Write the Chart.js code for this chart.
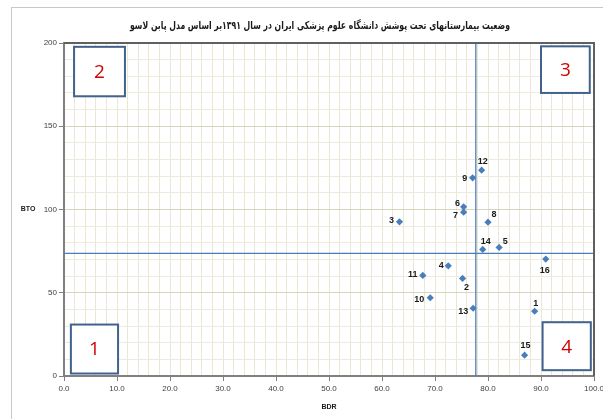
<!DOCTYPE html>
<html>
<head>
<meta charset="utf-8">
<script src="https://cdn.jsdelivr.net/npm/chart.js@4.4.1/dist/chart.umd.min.js"></script>
<style>
  html, body { margin: 0; padding: 0; background: #fff; overflow: hidden; }
  #wrap { position: relative; width: 603px; height: 419px; }
  #frame { position: absolute; left: 11px; top: 7px; width: 700px; height: 500px; border: 1px solid #c8c8c8; }
  #chart { position: absolute; left: 0; top: 0; }
</style>
</head>
<body>
<div id="wrap">
  <div id="frame"></div>
  <canvas id="chart" width="603" height="419"></canvas>
</div>
<script>
// hospitals (point labels) and their BDR / BTO values
const hospitalIds = ["1", "2", "3", "4", "5", "6", "7", "8", "9", "10", "11", "12", "13", "14", "15", "16"];
const bdrValues = [88.8, 75.2, 63.3, 72.5, 82.1, 75.4, 75.4, 80.0, 77.1, 69.1, 67.7, 78.8, 77.2, 79.0, 86.9, 90.9];
const btoValues = [38.9, 58.6, 92.6, 66.2, 77.2, 101.6, 98.4, 92.4, 119.0, 47.0, 60.4, 123.6, 40.7, 76.0, 12.5, 70.2];

// quadrant split lines
const meanBDR = 77.7;
const meanBTO = 73.6;

const titleText = "وضعیت بیمارستانهای تحت پوشش دانشگاه علوم پزشکی ایران در سال ۱۳۹۱بر اساس مدل پابن لاسو";
const xAxisTitle = "BDR";
const yAxisTitle = "BTO";
const quadrantNames = ["1", "2", "3", "4"];

// layout only: where each label sits relative to its point (px)
const labelOffsets = [
  [1, -8], [4, 9], [-8, -1], [-7, 0], [6, -6], [-6, -3], [-8, 3], [6, -8],
  [-8, 1], [-11, 2], [-10, -1], [1, -9], [-10, 3], [3, -8], [1, -10], [-1, 11]
];
// layout only: quadrant boxes in axis units [x0, x1, yTop, yBottom]
const quadrantBoxes = [
  [1.3, 10.2, 30.9, 1.5],
  [1.9, 11.5, 197.7, 168.0],
  [90.0, 99.2, 198.0, 170.0],
  [90.3, 99.4, 32.3, 3.5]
];

const points = bdrValues.map((x, i) => ({ x: x, y: btoValues[i] }));

const decorPlugin = {
  id: "decor",
  beforeDatasetsDraw(chart) {
    const ctx = chart.ctx;
    const xs = chart.scales.x, ys = chart.scales.y;
    ctx.save();
    quadrantBoxes.forEach((b, i) => {
      const x0 = xs.getPixelForValue(b[0]), x1 = xs.getPixelForValue(b[1]);
      const y0 = ys.getPixelForValue(b[2]), y1 = ys.getPixelForValue(b[3]);
      ctx.fillStyle = "#fff";
      ctx.fillRect(x0, y0, x1 - x0, y1 - y0);
      ctx.strokeStyle = "#41628d";
      ctx.lineWidth = 2;
      ctx.strokeRect(x0, y0, x1 - x0, y1 - y0);
      ctx.fillStyle = "#d00000";
      ctx.font = "19px 'Open Sans'";
      ctx.textAlign = "center";
      ctx.textBaseline = "middle";
      ctx.fillText(quadrantNames[i], (x0 + x1) / 2, (y0 + y1) / 2 + 1);
    });
    ctx.restore();
  },
  afterDatasetsDraw(chart) {
    const ctx = chart.ctx;
    const meta = chart.getDatasetMeta(0);
    ctx.save();
    ctx.fillStyle = "#1a1a1a";
    ctx.font = "bold 9px 'Liberation Sans'";
    ctx.textAlign = "center";
    ctx.textBaseline = "middle";
    meta.data.forEach((pt, i) => {
      ctx.fillText(hospitalIds[i], pt.x + labelOffsets[i][0], pt.y + labelOffsets[i][1]);
    });
    // top and right edges of the plot
    const a = chart.chartArea;
    ctx.strokeStyle = "#606060";
    ctx.lineWidth = 2;
    ctx.beginPath();
    ctx.moveTo(a.left, a.top);
    ctx.lineTo(a.right, a.top);
    ctx.lineTo(a.right, a.bottom);
    ctx.stroke();
    ctx.restore();
  },
  afterDraw(chart) {
    const ctx = chart.ctx;
    const a = chart.chartArea;
    ctx.save();
    ctx.fillStyle = "#1a1a1a";
    ctx.font = "bold 11px 'DejaVu Sans'";
    ctx.direction = "rtl";
    ctx.textAlign = "center";
    ctx.textBaseline = "middle";
    // squeeze the title to the narrow width of the original face
    const w = ctx.measureText(titleText).width;
    const sx = Math.min(1, 380 / w);
    ctx.translate(320, 26);
    ctx.scale(sx, 1);
    ctx.fillText(titleText, 0, 0);
    ctx.setTransform(1, 0, 0, 1, 0, 0);
    ctx.direction = "ltr";
    ctx.font = "bold 7px 'Liberation Sans'";
    ctx.fillText(xAxisTitle, (a.left + a.right) / 2, 407);
    ctx.fillText(yAxisTitle, 28, chart.scales.y.getPixelForValue(100));
    ctx.restore();
  }
};

new Chart(document.getElementById("chart"), {
  type: "scatter",
  data: {
    datasets: [
      {
        data: points,
        pointStyle: "rectRot",
        pointRadius: 3.6,
        pointHoverRadius: 3.6,
        backgroundColor: "#4a7ebb",
        borderColor: "#4a7ebb",
        borderWidth: 0,
        order: 0
      },
      {
        data: [{ x: meanBDR, y: 0 }, { x: meanBDR, y: 200 }],
        showLine: true,
        pointRadius: 0,
        borderColor: "#4a7ebb",
        borderWidth: 1.3,
        order: 1
      },
      {
        data: [{ x: 0, y: meanBTO }, { x: 100, y: meanBTO }],
        showLine: true,
        pointRadius: 0,
        borderColor: "#4a7ebb",
        borderWidth: 1.3,
        order: 2
      }
    ]
  },
  options: {
    responsive: false,
    animation: false,
    layout: { padding: { left: 0, top: 43, right: 9, bottom: 0 } },
    plugins: {
      legend: { display: false },
      tooltip: { enabled: false }
    },
    scales: {
      x: {
        type: "linear",
        min: 0,
        max: 100,
        afterFit: s => { s.height = 43; s.paddingRight = 0; s.paddingLeft = 0; },
        border: { color: "#808080", width: 2 },
        grid: {
          color: "#ebe7d6",
          lineWidth: 1,
          tickLength: 5,
          tickColor: c => (c.tick && c.tick.value % 10 === 0 ? "#808080" : "rgba(0,0,0,0)")
        },
        ticks: {
          stepSize: 2,
          autoSkip: false,
          maxRotation: 0,
          padding: 3,
          color: "#404040",
          font: { family: "Liberation Sans", size: 8 },
          callback: v => (v % 10 === 0 ? v.toFixed(1) : "")
        }
      },
      y: {
        type: "linear",
        min: 0,
        max: 200,
        afterFit: s => { s.width = 64; s.paddingTop = 0; s.paddingBottom = 0; },
        border: { color: "#808080", width: 2 },
        grid: {
          color: c => (c.tick && c.tick.value % 50 === 0 ? "#d9d4bc" : "#eeebdd"),
          lineWidth: 1,
          tickLength: 5,
          tickColor: c => (c.tick && c.tick.value % 50 === 0 ? "#808080" : "rgba(0,0,0,0)")
        },
        ticks: {
          stepSize: 10,
          autoSkip: false,
          padding: 2,
          color: "#404040",
          font: { family: "Liberation Sans", size: 8 },
          callback: v => (v % 50 === 0 ? String(v) : "")
        }
      }
    }
  },
  plugins: [decorPlugin]
});
</script>
</body>
</html>
